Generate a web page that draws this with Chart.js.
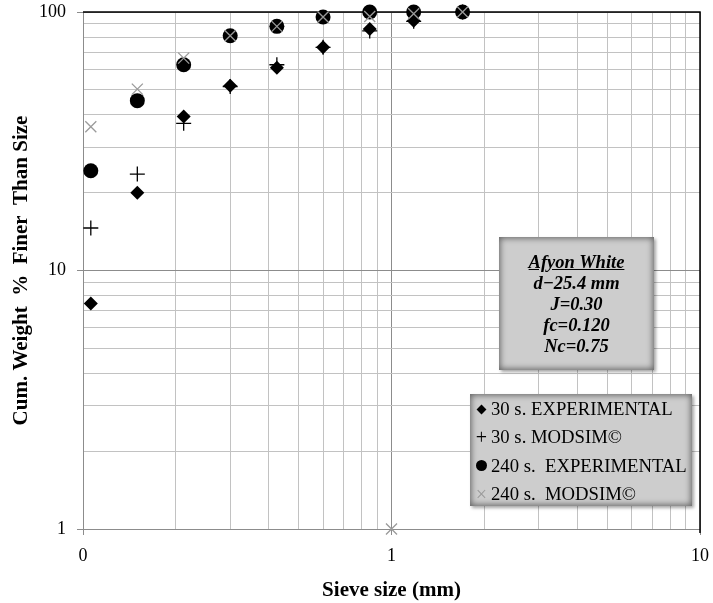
<!DOCTYPE html>
<html><head><meta charset="utf-8">
<script src="https://cdn.jsdelivr.net/npm/chart.js@4.4.1/dist/chart.umd.min.js"></script>
<style>
html,body{margin:0;padding:0;background:#fff;}
#wrap{position:relative;width:713px;height:603px;overflow:hidden;}
canvas{display:block;}
.box{position:absolute;background:#cdcdcd;box-shadow:inset 0 0 6px 1px rgba(0,0,0,0.55),2px 2px 3px rgba(0,0,0,0.35);font-family:"Liberation Serif","Times New Roman",serif;color:#000;box-sizing:border-box;}
#info{left:499px;top:237px;width:155px;height:133px;padding-top:15px;text-align:center;font-weight:bold;font-style:italic;font-size:18.5px;line-height:21px;}
#info .t{text-decoration:underline;}
#leg{left:470px;top:394px;width:222px;height:112px;padding-top:1px;font-size:18.7px;line-height:28.3px;}
#leg .row{white-space:pre;position:relative;padding-left:21px;}
#leg .sym{position:absolute;left:5px;top:0;width:13px;height:28px;display:flex;align-items:center;justify-content:center;}
.dia{width:7px;height:7px;background:#000;transform:rotate(45deg);}
.cir{width:11px;height:11px;border-radius:50%;background:#000;}
.pls{font-size:20px;color:#000;}
.crs{font-size:20px;color:#9a9a9a;}
</style></head>
<body><div id="wrap"><canvas id="c" width="713" height="603"></canvas>
<div class="box" id="info"><div class="t">Afyon White</div><div>d−25.4 mm</div><div>J=0.30</div><div>fc=0.120</div><div>Nc=0.75</div></div>
<div class="box" id="leg">
<div class="row"><span class="sym"><span class="dia"></span></span>30 s. EXPERIMENTAL</div>
<div class="row"><span class="sym"><span class="pls">+</span></span>30 s. MODSIM©</div>
<div class="row"><span class="sym"><span class="cir"></span></span>240 s.  EXPERIMENTAL</div>
<div class="row"><span class="sym"><span class="crs">×</span></span>240 s.  MODSIM©</div>
</div>
</div>
<script>
// ---- data ----
const sieveSizes = [0.106, 0.15, 0.212, 0.3, 0.425, 0.6, 0.85, 1.18, 1.7];
const exp30  = [7.45, 20.0, 39.4, 51.8, 60.8, 73.0, 85.9, 92.5, 100];
const mod30  = [14.6, 23.6, 37.1, 51.5, 62.5, 73.0, 84.5, 92.0, 100];
const exp240 = [24.3, 45.4, 62.5, 80.9, 88.0, 95.6, 100, 100, 100];
const mod240 = [36.0, 50.3, 66.3, 80.9, 88.0, 95.6, 96.1, 98.5, 100];
const mod240ExtraSizes = [1.0];
const mod240ExtraValues = [1.0];

const xTickValues = [0.1,0.2,0.3,0.4,0.5,0.6,0.7,0.8,0.9,1,2,3,4,5,6,7,8,9,10];
const yTickValues = [1,2,3,4,5,6,7,8,9,10,20,30,40,50,60,70,80,90,100];
const xMajorTicks = [0.1, 1, 10];
const xMajorLabels = ['0', '1', '10'];
const yMajorTicks = [1, 10, 100];
const yMajorLabels = ['1', '10', '100'];

const xTitle = 'Sieve size (mm)';
const yTitle = 'Cum. Weight  %  Finer  Than Size';

function pts(xs, ys){ return xs.map((x,i)=>({x:x, y:ys[i]})); }
function majorIndex(list, v){ return list.findIndex(m => Math.abs(m - v) < 1e-9 * Math.max(1, m)); }
function isDecade(v){ const l = Math.log10(v); return Math.abs(l - Math.round(l)) < 1e-6; }

const borderPlugin = {
  id: 'frame',
  beforeDatasetsDraw(chart){
    const a = chart.chartArea, ctx = chart.ctx;
    ctx.save();
    ctx.strokeStyle = '#000'; ctx.lineWidth = 1.5;
    ctx.beginPath();
    ctx.moveTo(a.left, a.top); ctx.lineTo(a.right, a.top); ctx.lineTo(a.right, a.bottom + 4);
    ctx.stroke();
    ctx.restore();
  }
};

const serif = '"Liberation Serif","Times New Roman",serif';

new Chart(document.getElementById('c'), {
  type: 'scatter',
  data: {
    datasets: [
      { label: '240 s. MODSIM©', data: pts(sieveSizes, mod240).concat(pts(mod240ExtraSizes, mod240ExtraValues)),
        pointStyle: 'crossRot', radius: 7.8, borderColor: '#9a9a9a', backgroundColor: '#9a9a9a', borderWidth: 1.3, order: 0 },
      { label: '240 s. EXPERIMENTAL', data: pts(sieveSizes, exp240),
        pointStyle: 'circle', radius: 7.5, borderColor: '#000', backgroundColor: '#000', borderWidth: 0, order: 1 },
      { label: '30 s. MODSIM©', data: pts(sieveSizes, mod30),
        pointStyle: 'cross', radius: 7.5, borderColor: '#000', backgroundColor: '#000', borderWidth: 1.3, order: 2 },
      { label: '30 s. EXPERIMENTAL', data: pts(sieveSizes, exp30),
        pointStyle: 'rectRot', radius: 7, borderColor: '#000', backgroundColor: '#000', borderWidth: 0, order: 3 }
    ]
  },
  options: {
    responsive: false, animation: false, devicePixelRatio: 1,
    clip: false,
    layout: { padding: { left: 0, top: 12, right: 13, bottom: 0 } },
    plugins: { legend: { display: false }, tooltip: { enabled: false } },
    elements: { point: { hoverRadius: 7.5 } },
    scales: {
      x: {
        type: 'logarithmic', min: 0.1, max: 10, position: 'bottom',
        afterBuildTicks: s => { s.ticks = xTickValues.map(v => ({ value: v })); },
        afterFit: s => { s.height = 74; s.paddingLeft = 0; s.paddingRight = 0; s.paddingTop = 0; s.paddingBottom = 0; },
        ticks: {
          autoSkip: false, maxRotation: 0, padding: 10, color: '#000',
          font: { family: serif, size: 18 },
          callback: v => { const i = majorIndex(xMajorTicks, v); return i >= 0 ? xMajorLabels[i] : ''; }
        },
        grid: {
          color: c => isDecade(c.tick.value) ? '#8c8c8c' : '#c2c2c2',
          tickColor: c => isDecade(c.tick.value) ? '#8c8c8c' : 'rgba(0,0,0,0)',
          tickLength: 6, lineWidth: 1
        },
        border: { color: '#8c8c8c', width: 1 },
        title: { display: true, text: xTitle, color: '#000', font: { family: serif, size: 21, weight: 'bold' }, padding: { top: 0, bottom: 0 } }
      },
      y: {
        type: 'logarithmic', min: 1, max: 100, position: 'left',
        afterBuildTicks: s => { s.ticks = yTickValues.map(v => ({ value: v })); },
        afterFit: s => { s.width = 83; s.paddingLeft = 0; s.paddingRight = 0; s.paddingTop = 0; s.paddingBottom = 0; },
        ticks: {
          autoSkip: false, padding: 11, color: '#000',
          font: { family: serif, size: 18 },
          callback: v => { const i = majorIndex(yMajorTicks, v); return i >= 0 ? yMajorLabels[i] : ''; }
        },
        grid: {
          color: c => isDecade(c.tick.value) ? '#8c8c8c' : '#c2c2c2',
          tickColor: c => isDecade(c.tick.value) ? '#8c8c8c' : 'rgba(0,0,0,0)',
          tickLength: 6, lineWidth: 1
        },
        border: { color: '#8c8c8c', width: 1 },
        title: { display: true, text: yTitle, color: '#000', font: { family: serif, size: 21, weight: 'bold' }, padding: { top: 9, bottom: 0 } }
      }
    }
  },
  plugins: [borderPlugin]
});
</script>
</body></html>
